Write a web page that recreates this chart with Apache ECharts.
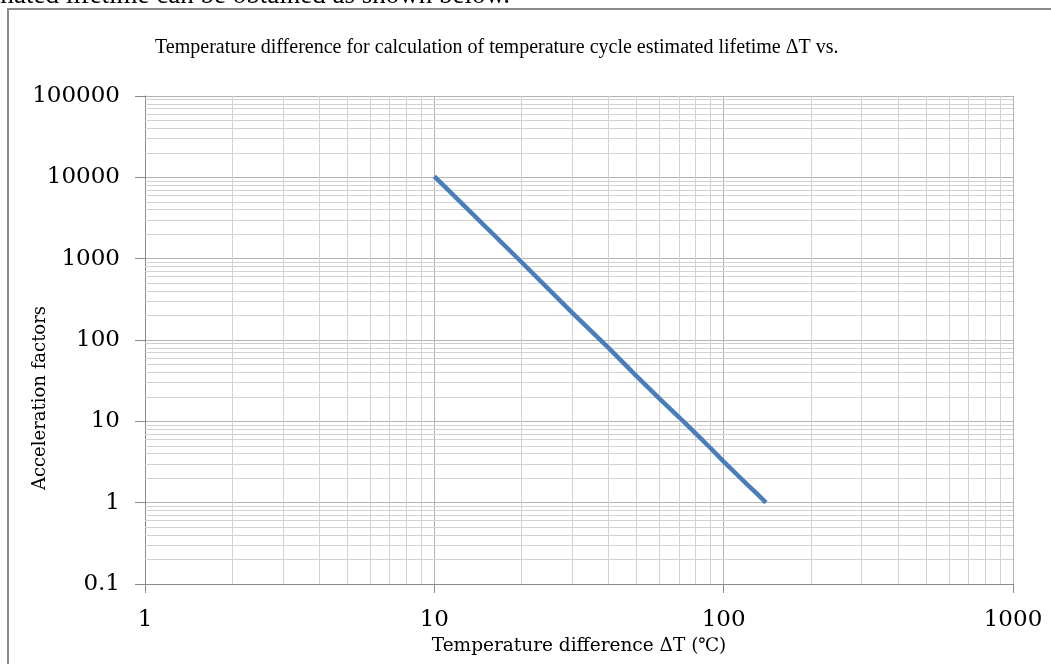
<!DOCTYPE html>
<html>
<head>
<meta charset="utf-8">
<script src="https://cdn.jsdelivr.net/npm/echarts@6/dist/echarts.min.js"></script>
<style>
  html, body { margin: 0; padding: 0; background: #ffffff; }
  #chart { width: 1051px; height: 664px; }
</style>
</head>
<body>
<div id="chart"></div>
<script>
// Temperature difference ΔT (°C) and the matching acceleration factor
const deltaT = [10, 20, 30, 40, 50, 60, 70, 80, 90, 100, 110, 120, 130, 140];
const accelFactor = [10300, 910, 215, 80, 36, 19, 11.3, 7.1, 4.7, 3.2, 2.3, 1.7, 1.3, 1.0];

// Axis ranges (log 10)
const xRange = [1, 1000];
const yRange = [0.1, 100000];

// Minor grid values (2..9 of each decade)
const xMinor = [2, 3, 4, 5, 6, 7, 8, 9, 20, 30, 40, 50, 60, 70, 80, 90, 200, 300, 400, 500, 600, 700, 800, 900];
const yMinor = [0.2, 0.3, 0.4, 0.5, 0.6, 0.7, 0.8, 0.9,
  2, 3, 4, 5, 6, 7, 8, 9,
  20, 30, 40, 50, 60, 70, 80, 90,
  200, 300, 400, 500, 600, 700, 800, 900,
  2000, 3000, 4000, 5000, 6000, 7000, 8000, 9000,
  20000, 30000, 40000, 50000, 60000, 70000, 80000, 90000];

const titleText = 'Temperature difference for calculation of temperature cycle estimated lifetime ΔT vs.';
const introText = 'estimated lifetime can be obtained as shown below.';
const yTitle = 'Acceleration factors';
const xTitle = 'Temperature difference ΔT (℃)';

const chart = echarts.init(document.getElementById('chart'), null, { renderer: 'canvas' });

const minorLines = xMinor.map(v => ({ xAxis: v })).concat(yMinor.map(v => ({ yAxis: v })));

const serifLabel = { fontFamily: 'DejaVu Serif', fontSize: 23, color: '#000' };

chart.setOption({
  backgroundColor: '#ffffff',
  animation: false,
  graphic: [
    {
      // running text of the page above the chart frame, clipped by the top edge
      type: 'text', silent: true,
      x: 510, y: -18,
      style: {
        text: introText, font: '27px "Liberation Serif"', fill: '#000',
        align: 'right', verticalAlign: 'top'
      }
    },
    {
      type: 'rect', silent: true, z: -1,
      shape: { x: 8, y: 9, width: 1100, height: 700 },
      style: { fill: 'none', stroke: '#8a8a8a', lineWidth: 2 }
    },
    {
      type: 'text', left: 155, top: 38, silent: true,
      style: { text: titleText, font: '20px "Liberation Serif"', fill: '#000' }
    },
    {
      type: 'text', silent: true,
      x: 40, y: 398, rotation: Math.PI / 2,
      style: {
        text: yTitle, font: '18px "DejaVu Serif"', fill: '#000',
        align: 'center', verticalAlign: 'middle'
      }
    }
  ],
  grid: { left: 145, right: 38, top: 96, bottom: 80, containLabel: false },
  xAxis: {
    type: 'log', logBase: 10, min: xRange[0], max: xRange[1],
    name: xTitle,
    nameLocation: 'middle', nameGap: 52,
    nameTextStyle: { fontFamily: 'DejaVu Serif', fontSize: 18.5, color: '#000' },
    axisLine: { show: true, lineStyle: { color: '#8a8a8a', width: 1 } },
    axisTick: { show: true, length: 9, lineStyle: { color: '#8a8a8a' } },
    axisLabel: Object.assign({ margin: 25, formatter: v => String(v) }, serifLabel),
    splitLine: { show: true, lineStyle: { color: '#b4b4b4', width: 1 } },
    minorTick: { show: false }, minorSplitLine: { show: false }
  },
  yAxis: {
    type: 'log', logBase: 10, min: yRange[0], max: yRange[1],
    axisLine: { show: true, lineStyle: { color: '#8a8a8a', width: 1 } },
    axisTick: { show: true, length: 10, lineStyle: { color: '#8a8a8a' } },
    axisLabel: Object.assign({ margin: 25, formatter: v => String(v) }, serifLabel),
    splitLine: { show: true, lineStyle: { color: '#b4b4b4', width: 1 } },
    minorTick: { show: false }, minorSplitLine: { show: false }
  },
  series: [
    {
      // carrier for the minor log grid lines
      type: 'line', z: 1, silent: true,
      data: [[xRange[0], yRange[0]]],
      showSymbol: false, lineStyle: { opacity: 0 },
      markLine: {
        silent: true, symbol: ['none', 'none'], animation: false,
        label: { show: false },
        lineStyle: { color: '#d2d2d2', width: 1, type: 'solid' },
        emphasis: { disabled: true },
        data: minorLines
      }
    },
    {
      type: 'line', z: 5,
      data: deltaT.map((t, i) => [t, accelFactor[i]]),
      showSymbol: false, smooth: false,
      lineStyle: { color: '#4a7ebb', width: 4.5 },
      itemStyle: { color: '#4a7ebb' }
    }
  ]
});
</script>
</body>
</html>
